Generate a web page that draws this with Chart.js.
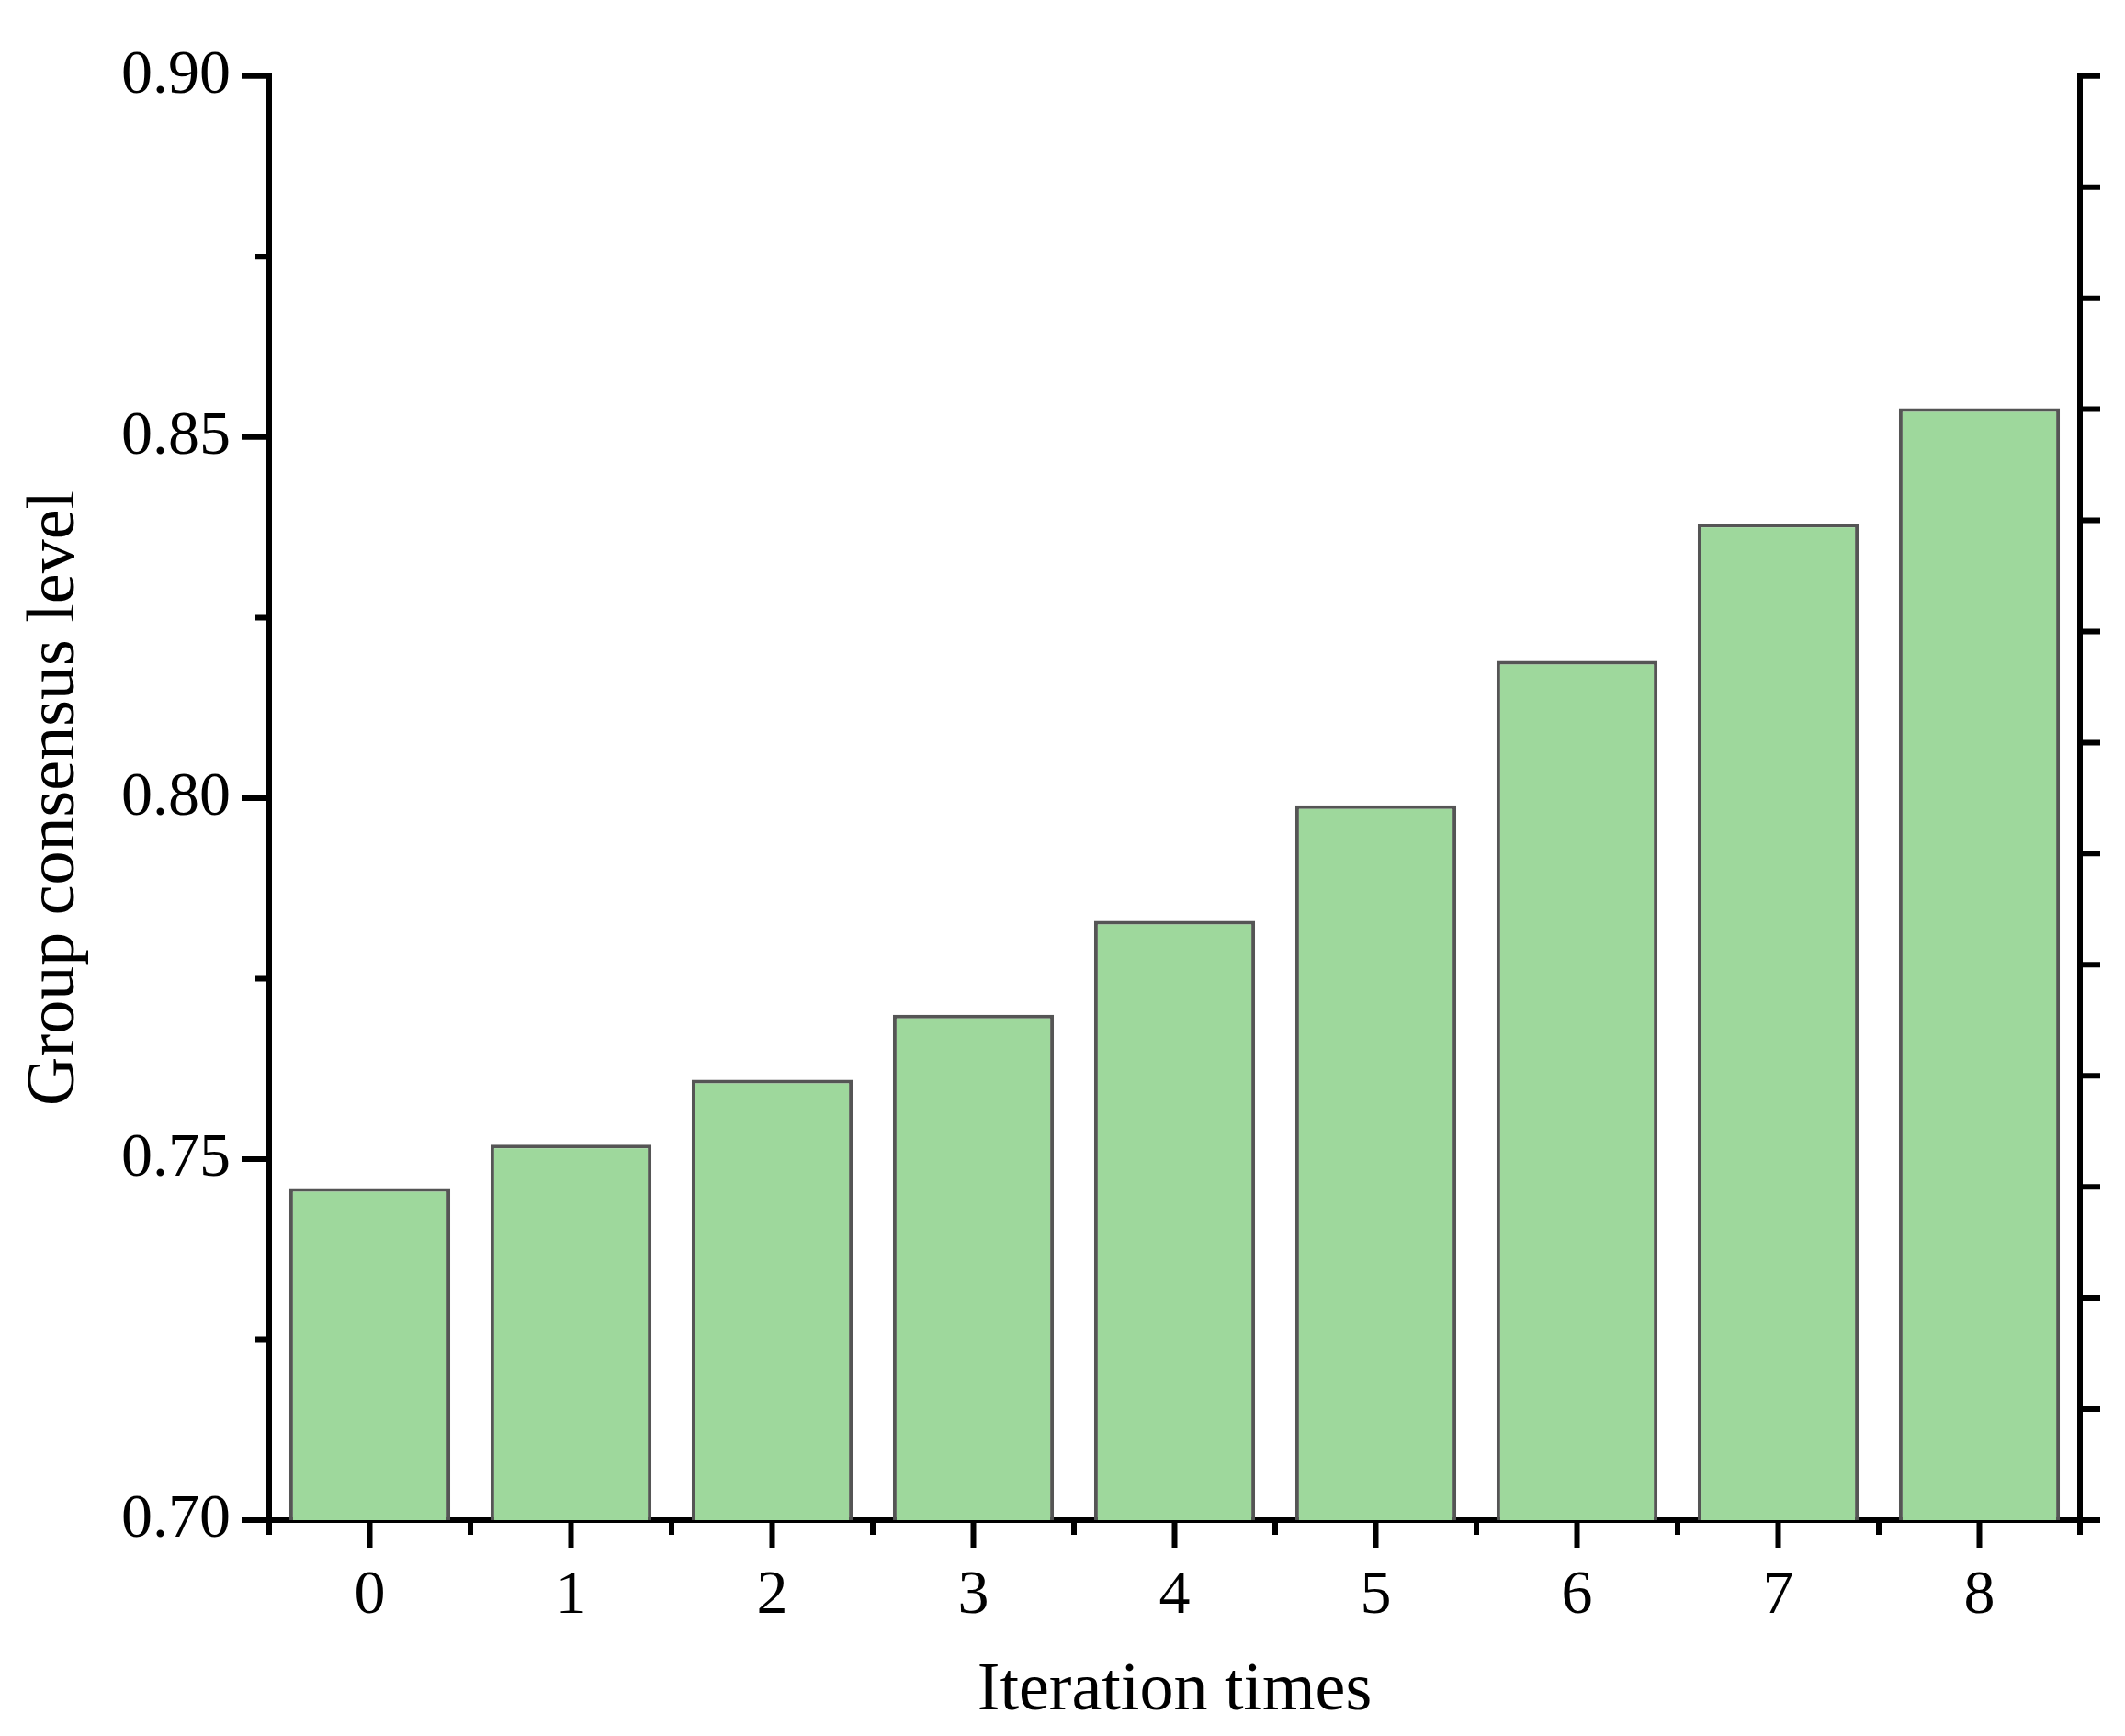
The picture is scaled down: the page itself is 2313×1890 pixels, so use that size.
<!DOCTYPE html>
<html>
<head>
<meta charset="utf-8">
<script src="https://cdn.jsdelivr.net/npm/chart.js@4"></script>
<style>
  body { margin: 0; background: #fff; }
  #wrap { width: 2313px; height: 1890px; }
</style>
</head>
<body>
<div id="wrap"><canvas id="myChart" width="2313" height="1890"></canvas></div>
<script>
const iterations = ["0", "1", "2", "3", "4", "5", "6", "7", "8"];
const consensus = [0.746, 0.752, 0.761, 0.770, 0.783, 0.799, 0.819, 0.838, 0.854];
const y_ticks = [0.70, 0.75, 0.80, 0.85, 0.90];

const font_family = "'Liberation Serif', 'Times New Roman', serif";

// draws the outward tick marks the way Origin does
const tick_marks = {
  id: "tick_marks",
  afterDraw(chart) {
    const c = chart.ctx;
    const x = chart.scales.x;
    const y = chart.scales.y;
    const y2 = chart.scales.y2;
    const area = chart.chartArea;
    c.save();
    c.strokeStyle = "#000";
    c.lineWidth = 6;
    c.beginPath();
    for (let v = 0.70; v <= 0.9001; v += 0.025) {
      const py = y.getPixelForValue(v);
      const major = Math.abs(v / 0.05 - Math.round(v / 0.05)) < 1e-6;
      c.moveTo(area.left, py);
      c.lineTo(area.left - (major ? 30 : 15), py);
    }
    for (let v = 0; v <= 13; v++) {
      const py = y2.getPixelForValue(v);
      c.moveTo(area.right, py);
      c.lineTo(area.right + 22, py);
    }
    for (let i = 0; i < iterations.length; i++) {
      const px = x.getPixelForValue(i);
      c.moveTo(px, area.bottom);
      c.lineTo(px, area.bottom + 30);
    }
    for (let i = -0.5; i <= iterations.length - 0.5; i++) {
      const px = x.getPixelForValue(i);
      c.moveTo(px, area.bottom);
      c.lineTo(px, area.bottom + 16);
    }
    c.stroke();
    c.restore();
  },
};

const ctx = document.getElementById("myChart");
new Chart(ctx, {
  type: "bar",
  data: {
    labels: iterations,
    datasets: [
      {
        data: consensus,
        backgroundColor: "#9ED89C",
        borderColor: "#555555",
        borderWidth: 4,
        borderSkipped: "bottom",
        categoryPercentage: 0.8,
        barPercentage: 1.0,
      },
    ],
  },
  options: {
    responsive: false,
    animation: false,
    devicePixelRatio: 1,
    layout: { padding: { top: 56, left: 12, right: 0, bottom: 0 } },
    plugins: { legend: { display: false }, tooltip: { enabled: false } },
    scales: {
      x: {
        grid: { display: false, drawTicks: false },
        border: { color: "#000", width: 6 },
        ticks: { color: "#000", padding: 42, font: { family: font_family, size: 68 } },
        title: {
          display: true,
          text: "Iteration times",
          color: "#000",
          padding: { top: 40 },
          font: { family: font_family, size: 74 },
        },
        afterFit(scale) { scale.height = 235; },
      },
      y: {
        min: 0.70,
        max: 0.90,
        afterBuildTicks(scale) { scale.ticks = y_ticks.map((v) => ({ value: v })); },
        grid: { display: false, drawTicks: false },
        border: { color: "#000", width: 6 },
        ticks: {
          color: "#000",
          padding: 42,
          font: { family: font_family, size: 68 },
          callback: (v) => v.toFixed(2),
        },
        title: {
          display: true,
          text: "Group consensus level",
          color: "#000",
          font: { family: font_family, size: 74 },
        },
        afterFit(scale) { scale.width = 281; },
      },
      y2: {
        position: "right",
        min: 0,
        max: 13,
        grid: { display: false, drawTicks: false },
        border: { color: "#000", width: 6 },
        ticks: { display: false },
        afterFit(scale) { scale.width = 49; },
      },
    },
  },
  plugins: [tick_marks],
});
</script>
</body>
</html>
